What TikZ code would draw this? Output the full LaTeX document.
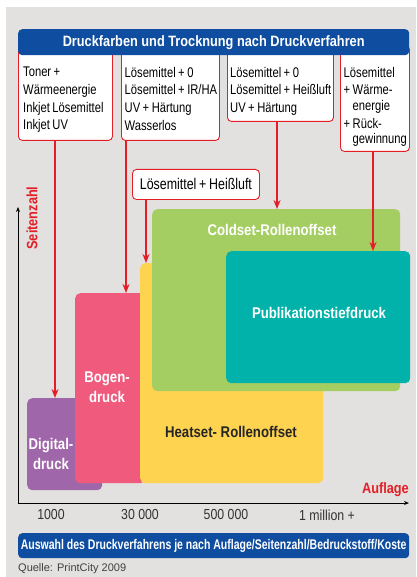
\documentclass[tikz,border=0pt]{standalone}
\usepackage{fontspec}
\setmainfont{Liberation Sans}
\newfontfamily\narrowfont[FakeStretch=0.85]{Liberation Sans}
\newfontfamily\boxfont[FakeStretch=0.8, WordSpace=0.8]{Liberation Sans}
\newfontfamily\footfont[FakeStretch=0.75]{Liberation Sans}
\usetikzlibrary{arrows.meta}

\definecolor{dblue}{HTML}{0E4DA0}
\definecolor{dred}{HTML}{E41E26}
\definecolor{cdig}{HTML}{A066AA}
\definecolor{cbog}{HTML}{EF5A7D}
\definecolor{cheat}{HTML}{FED34F}
\definecolor{ccold}{HTML}{A5CE62}
\definecolor{cpub}{HTML}{00B2A9}
\definecolor{bggray}{HTML}{E2E1DF}
\definecolor{bglight}{HTML}{F4F4F4}

\tikzset{
  infobox/.style={draw=dred, line width=0.9pt, fill=white, rounded corners=4pt,
    inner sep=0pt, anchor=north west},
  infotext/.style={anchor=north west, inner sep=0pt, align=left, text=black,
    font=\boxfont\fontsize{14}{17.6}\selectfont},
  bar/.style={fill=dblue, rounded corners=4pt, inner sep=0pt, anchor=north west,
    text=white},
  block/.style={rounded corners=5pt, inner sep=0pt, anchor=north west},
  blocktext/.style={text=white, align=center, inner sep=0pt,
    font=\narrowfont\bfseries\fontsize{15.5}{19.5}\selectfont},
  redline/.style={dred, line width=2pt, -{Stealth[length=9pt,width=7pt]}},
  axis/.style={black, line width=1pt, -{Stealth[length=5pt,width=4pt]}},
  axislabel/.style={text=dred, inner sep=0pt,
    font=\narrowfont\bfseries\fontsize{15}{17}\selectfont},
  tick/.style={text=black!80, inner sep=0pt,
    font=\narrowfont\fontsize{14.5}{18}\selectfont}
}

\begin{document}
\begin{tikzpicture}[x=1pt, y=-1pt]
    \useasboundingbox (0,0) rectangle (416,577);
    \shade[top color=bggray, middle color=bglight, bottom color=bggray] (6,8) rectangle (416,577);

    % boxes with inks and drying
    \node[infobox, minimum width=94, minimum height=95] (tb1) at (18,45) {};
    \node[infobox, minimum width=98, minimum height=95] (tb2) at (121,45) {};
    \node[infobox, minimum width=106, minimum height=76] (tb3) at (227,45) {};
    \node[infobox, minimum width=69, minimum height=106] (tb4) at (340,45) {};
    \node[infotext] (tt1) at (23,67) {Toner +\\Wärmeenergie\\Inkjet Lösemittel\\Inkjet UV};
    \node[infotext] (tt2) at (124.5,67) {Lösemittel + 0\\Lösemittel + IR/HA\\UV + Härtung\\Wasserlos};
    \node[infotext] (tt3) at (230,67) {Lösemittel + 0\\Lösemittel + Heißluft\\UV + Härtung};
    \node[infotext] (tt4) at (343.5,67) {Lösemittel\\+ Wärme-\\[-2pt]\phantom{+ }energie\\+ Rück-\\[-2pt]\phantom{+ }gewinnung};

    \node[bar, minimum width=391, minimum height=26,
        font=\narrowfont\bfseries\fontsize{15}{18}\selectfont] (title) at (18,29)
        {Druckfarben und Trocknung nach Druckverfahren};

    \node[infobox, minimum width=127, minimum height=30, text=black,
        font=\boxfont\fontsize{15.5}{16}\selectfont] (hl) at (132,169) {Lösemittel + Heißluft};

    % printing methods
    \node[block, fill=cdig, minimum width=75, minimum height=92] (dig) at (27,398) {};
    \node[block, fill=cbog, minimum width=70, minimum height=190] (bog) at (75,293) {};
    \node[block, fill=cheat, minimum width=183, minimum height=220] (heat) at (140,263) {};
    \node[block, fill=ccold, minimum width=248, minimum height=182] (cold) at (152,209) {};
    \node[block, fill=cpub, minimum width=184, minimum height=132] (pub) at (226,251) {};

    \node[blocktext] (diglab) at (51,454) {Digital-\\druck};
    \node[blocktext] (boglab) at (107,387) {Bogen-\\druck};
    \node[blocktext, text=black!85] (heatlab) at (231,432) {Heatset- Rollenoffset};
    \node[blocktext] (coldlab) at (272,230) {Coldset-Rollenoffset};
    \node[blocktext] (publab) at (319,313) {Publikationstiefdruck};

    % red connectors
    \coordinate (a1) at (55,0);
    \coordinate (a2) at (126,0);
    \coordinate (a3) at (146,0);
    \coordinate (a4) at (277,0);
    \coordinate (a5) at (373,0);
    \draw[redline] (tb1.south -| a1) -- (dig.north -| a1);
    \draw[redline] (tb2.south -| a2) -- (bog.north -| a2);
    \draw[redline] (hl.south -| a3) -- (heat.north -| a3);
    \draw[redline] (tb3.south -| a4) -- (cold.north -| a4);
    \draw[redline] (tb4.south -| a5) -- (pub.north -| a5);

    % axes
    \coordinate (orig) at (18,503);
    \coordinate (ytip) at (18,207);
    \coordinate (xtip) at (409,503);
    \draw[axis] (orig) -- (ytip);
    \draw[axis] (orig) -- (xtip);
    \node[axislabel, rotate=90] (ylab) at (32,218) {Seitenzahl};
    \node[axislabel, anchor=east] (xlab) at (409,490) {Auflage};

    \node[tick] (t1) at (51,515) {1000};
    \node[tick] (t2) at (140,515) {30 000};
    \node[tick] (t3) at (226,515) {500 000};
    \node[tick] (t4) at (327,515) {1 million +};

    \node[bar, minimum width=391, minimum height=25,
        font=\footfont\bfseries\fontsize{14}{17}\selectfont] (foot) at (18,533)
        {Auswahl des Druckverfahrens je nach Auflage/Seitenzahl/Bedruckstoff/Koste};
    \node[anchor=west, inner sep=0pt, text=black!75, font=\fontsize{11}{13}\selectfont] (src)
        at (18,569) {Quelle: PrintCity 2009};
\end{tikzpicture}
\end{document}
